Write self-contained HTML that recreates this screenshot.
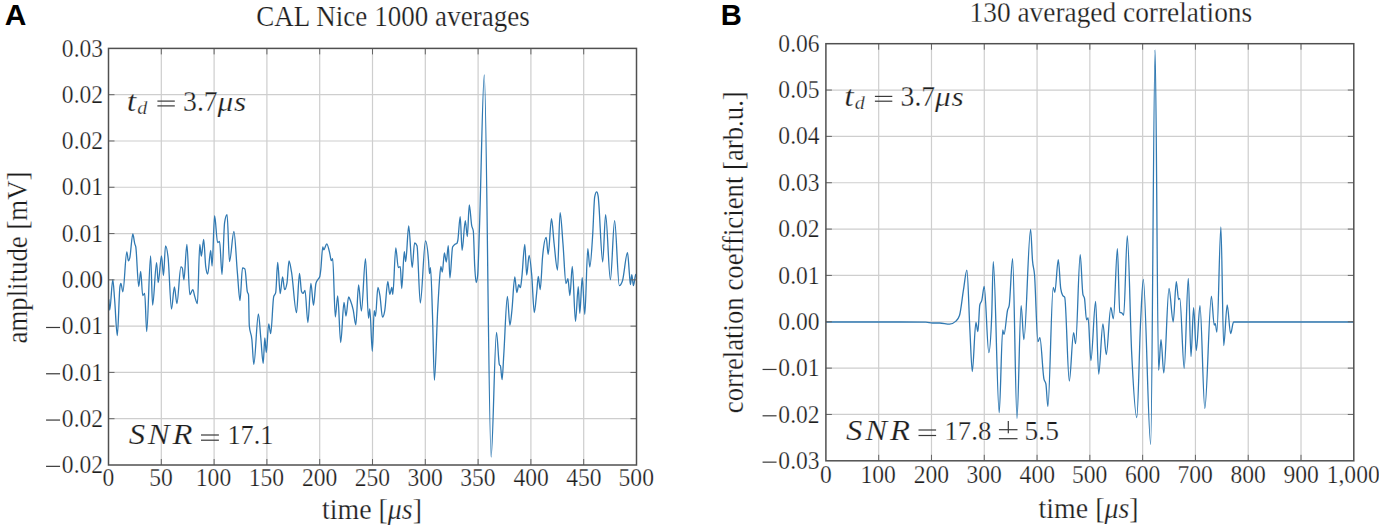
<!DOCTYPE html><html><head><meta charset="utf-8"><style>html,body{margin:0;padding:0;background:#fff;width:1379px;height:529px;overflow:hidden}svg{display:block}text{font-family:"Liberation Serif",serif;fill:#1e1e1e;stroke:#fff;stroke-width:0.25px}.s{font-family:"Liberation Sans",sans-serif;font-weight:bold;fill:#000;stroke:none}</style></head><body>
<svg width="1379" height="529" viewBox="0 0 1379 529">
<rect width="1379" height="529" fill="#fff"/>
<path d="M161.30 48.40V465.00M214.10 48.40V465.00M266.90 48.40V465.00M319.70 48.40V465.00M372.50 48.40V465.00M425.30 48.40V465.00M478.10 48.40V465.00M530.90 48.40V465.00M583.70 48.40V465.00M108.50 94.69H636.50M108.50 140.98H636.50M108.50 187.27H636.50M108.50 233.56H636.50M108.50 279.84H636.50M108.50 326.13H636.50M108.50 372.42H636.50M108.50 418.71H636.50" stroke="#cecece" stroke-width="1.2" fill="none"/>
<path d="M878.69 43.70V460.80M931.48 43.70V460.80M984.27 43.70V460.80M1037.06 43.70V460.80M1089.85 43.70V460.80M1142.64 43.70V460.80M1195.43 43.70V460.80M1248.22 43.70V460.80M1301.01 43.70V460.80M825.90 90.04H1353.80M825.90 136.39H1353.80M825.90 182.73H1353.80M825.90 229.08H1353.80M825.90 275.42H1353.80M825.90 321.77H1353.80M825.90 368.11H1353.80M825.90 414.46H1353.80" stroke="#cecece" stroke-width="1.2" fill="none"/>
<path d="M108.8 299.3C109.10 302.87 109.40 310.00 109.7 310.0C110.73 310.00 111.77 279.70 112.8 279.7C113.40 279.70 114.00 292.15 114.6 299.3C115.50 310.02 116.40 335.60 117.3 335.6C118.17 335.60 119.03 293.79 119.9 287.2C120.23 284.67 120.57 283.40 120.9 283.4C121.57 283.40 122.23 291.80 122.9 291.8C124.20 291.80 125.50 251.80 126.8 251.8C127.33 251.80 127.87 260.80 128.4 260.8C128.87 260.80 129.33 259.66 129.8 257.8C130.80 253.81 131.80 234.00 132.8 234.0C133.47 234.00 134.13 241.47 134.8 243.9C135.13 245.12 135.47 244.99 135.8 246.9C136.77 252.44 137.73 286.50 138.7 286.5C139.37 286.50 140.03 271.50 140.7 271.5C141.37 271.50 142.03 295.50 142.7 295.5C143.37 295.50 144.03 293.50 144.7 293.5C145.37 293.50 146.03 331.60 146.7 331.6C148.00 331.60 149.30 255.80 150.6 255.8C151.27 255.80 151.93 305.00 152.6 305.0C153.93 305.00 155.27 262.70 156.6 262.7C157.13 262.70 157.67 282.60 158.2 282.6C159.30 282.60 160.40 255.80 161.5 255.8C162.17 255.80 162.83 275.60 163.5 275.6C164.17 275.60 164.83 245.90 165.5 245.9C166.37 245.90 167.23 249.90 168.1 257.8C169.23 268.13 170.37 309.00 171.5 309.0C172.47 309.00 173.43 287.00 174.4 287.0C175.23 287.00 176.07 303.60 176.9 303.6C178.23 303.60 179.57 266.90 180.9 266.9C181.37 266.90 181.83 267.27 182.3 268.0C182.83 268.84 183.37 279.80 183.9 279.8C184.90 279.80 185.90 244.40 186.9 244.4C187.87 244.40 188.83 294.60 189.8 294.6C190.80 294.60 191.80 289.70 192.8 289.7C193.47 289.70 194.13 294.52 194.8 296.6C195.67 299.30 196.53 303.60 197.4 303.6C198.20 303.60 199.00 244.40 199.8 244.4C200.30 244.40 200.80 256.30 201.3 256.3C202.10 256.30 202.90 239.50 203.7 239.5C204.37 239.50 205.03 261.17 205.7 266.3C206.37 271.43 207.03 274.00 207.7 274.0C208.70 274.00 209.70 250.40 210.7 250.4C211.17 250.40 211.63 266.00 212.1 266.0C212.93 266.00 213.77 215.70 214.6 215.7C215.60 215.70 216.60 242.50 217.6 242.5C218.27 242.50 218.93 241.50 219.6 241.5C220.40 241.50 221.20 274.50 222.0 274.5C222.87 274.50 223.73 228.08 224.6 222.6C225.43 217.33 226.27 214.70 227.1 214.7C227.90 214.70 228.70 261.50 229.5 261.5C230.97 261.50 232.43 231.50 233.9 231.5C235.07 231.50 236.23 259.89 237.4 272.9C238.27 282.57 239.13 300.60 240.0 300.6C240.83 300.60 241.67 267.90 242.5 267.9C243.30 267.90 244.10 268.23 244.9 268.9C245.70 269.57 246.50 287.83 247.3 291.7C247.70 293.63 248.10 292.70 248.5 294.7C248.77 296.03 249.03 322.95 249.3 325.8C250.17 335.07 251.03 331.21 251.9 339.7C252.53 345.91 253.17 364.50 253.8 364.5C255.33 364.50 256.87 314.00 258.4 314.0C259.20 314.00 260.00 329.75 260.8 338.0C261.60 346.25 262.40 363.50 263.2 363.5C263.73 363.50 264.27 338.00 264.8 338.0C265.30 338.00 265.80 352.60 266.3 352.6C267.10 352.60 267.90 323.80 268.7 323.8C269.37 323.80 270.03 333.70 270.7 333.7C271.70 333.70 272.70 300.70 273.7 296.7C274.37 294.03 275.03 295.37 275.7 292.7C276.37 290.03 277.03 262.50 277.7 262.5C278.53 262.50 279.37 293.70 280.2 293.7C281.00 293.70 281.80 276.80 282.6 276.8C283.27 276.80 283.93 289.70 284.6 289.7C285.40 289.70 286.20 287.40 287.0 282.8C287.67 278.97 288.33 261.00 289.0 261.0C289.83 261.00 290.67 267.21 291.5 271.9C293.17 281.28 294.83 312.70 296.5 312.7C297.50 312.70 298.50 273.50 299.5 273.5C300.17 273.50 300.83 289.81 301.5 291.5C302.00 292.77 302.50 293.40 303.0 293.4C303.67 293.40 304.33 290.40 305.0 290.4C305.97 290.40 306.93 322.50 307.9 322.5C308.90 322.50 309.90 283.50 310.9 283.5C311.77 283.50 312.63 305.30 313.5 305.3C314.30 305.30 315.10 286.70 315.9 283.5C316.57 280.83 317.23 280.69 317.9 279.5C318.53 278.37 319.17 278.50 319.8 276.5C320.13 275.45 320.47 272.40 320.8 269.6C321.47 264.00 322.13 246.80 322.8 246.8C323.13 246.80 323.47 249.80 323.8 249.8C324.80 249.80 325.80 243.80 326.8 243.8C327.80 243.80 328.80 249.49 329.8 253.7C330.30 255.81 330.80 260.70 331.3 260.7C331.77 260.70 332.23 258.70 332.7 258.7C333.57 258.70 334.43 317.00 335.3 317.0C336.10 317.00 336.90 296.00 337.7 296.0C338.70 296.00 339.70 342.50 340.7 342.5C341.80 342.50 342.90 302.50 344.0 302.5C344.67 302.50 345.33 316.00 346.0 316.0C346.87 316.00 347.73 297.00 348.6 297.0C349.27 297.00 349.93 299.27 350.6 301.0C351.47 303.26 352.33 305.83 353.2 309.8C354.07 313.77 354.93 324.80 355.8 324.8C356.73 324.80 357.67 285.00 358.6 285.0C359.53 285.00 360.47 311.00 361.4 311.0C362.77 311.00 364.13 258.70 365.5 258.7C366.50 258.70 367.50 318.20 368.5 318.2C368.93 318.20 369.37 308.80 369.8 308.8C370.63 308.80 371.47 351.30 372.3 351.3C372.93 351.30 373.57 310.60 374.2 310.6C374.63 310.60 375.07 316.30 375.5 316.3C376.30 316.30 377.10 287.50 377.9 287.5C378.57 287.50 379.23 291.48 379.9 295.4C380.77 300.49 381.63 317.20 382.5 317.2C383.27 317.20 384.03 314.80 384.8 310.3C385.80 304.44 386.80 281.50 387.8 281.5C388.47 281.50 389.13 294.40 389.8 294.4C390.47 294.40 391.13 287.50 391.8 287.5C392.13 287.50 392.47 294.40 392.8 294.4C393.80 294.40 394.80 247.80 395.8 247.8C396.63 247.80 397.47 267.60 398.3 267.6C398.97 267.60 399.63 266.60 400.3 266.6C400.77 266.60 401.23 288.50 401.7 288.5C402.57 288.50 403.43 251.70 404.3 251.7C404.77 251.70 405.23 261.70 405.7 261.7C406.70 261.70 407.70 226.00 408.7 226.0C409.87 226.00 411.03 267.60 412.2 267.6C413.00 267.60 413.80 242.80 414.6 242.8C415.40 242.80 416.20 243.80 417.0 245.8C418.10 248.55 419.20 303.00 420.3 303.0C422.03 303.00 423.77 240.80 425.5 240.8C426.50 240.80 427.50 247.70 428.5 259.7C428.83 263.70 429.17 273.60 429.5 273.6C429.83 273.60 430.17 267.60 430.5 267.6C431.17 267.60 431.83 295.77 432.5 315.2C433.13 333.65 433.77 380.20 434.4 380.2C435.50 380.20 436.60 329.87 437.7 309.8C438.30 298.85 438.90 287.65 439.5 280.0C439.97 274.05 440.43 266.30 440.9 266.3C441.37 266.30 441.83 272.20 442.3 272.2C443.00 272.20 443.70 252.90 444.4 252.9C445.03 252.90 445.67 262.00 446.3 262.0C446.97 262.00 447.63 245.60 448.3 245.6C448.83 245.60 449.37 278.00 449.9 278.0C450.80 278.00 451.70 249.13 452.6 247.0C453.33 245.27 454.07 244.99 454.8 244.4C455.47 243.87 456.13 244.10 456.8 243.5C457.13 243.20 457.47 242.18 457.8 240.5C458.60 236.47 459.40 216.70 460.2 216.7C460.83 216.70 461.47 250.40 462.1 250.4C463.17 250.40 464.23 220.60 465.3 220.6C465.97 220.60 466.63 236.50 467.3 236.5C467.97 236.50 468.63 204.80 469.3 204.8C470.10 204.80 470.90 221.21 471.7 225.6C472.23 228.53 472.77 227.40 473.3 231.0C473.77 234.15 474.23 257.49 474.7 266.0C475.20 275.12 475.70 282.50 476.2 282.5C476.70 282.50 477.20 280.00 477.7 275.0C478.27 269.33 478.83 245.75 479.4 230.0C481.03 184.59 482.67 75.00 484.3 75.0C486.57 75.00 488.83 457.00 491.1 457.0C492.90 457.00 494.70 332.30 496.5 332.3C497.47 332.30 498.43 362.87 499.4 364.8C499.73 365.47 500.07 365.13 500.4 365.8C500.97 366.93 501.53 379.70 502.1 379.7C502.63 379.70 503.17 364.10 503.7 356.0C504.93 337.26 506.17 296.50 507.4 296.5C508.23 296.50 509.07 325.40 509.9 325.4C510.57 325.40 511.23 316.58 511.9 310.5C512.87 301.68 513.83 277.00 514.8 277.0C515.47 277.00 516.13 292.60 516.8 292.6C517.47 292.60 518.13 284.70 518.8 284.7C519.33 284.70 519.87 287.70 520.4 287.7C520.87 287.70 521.33 281.62 521.8 277.7C522.80 269.30 523.80 244.40 524.8 244.4C525.43 244.40 526.07 275.00 526.7 275.0C527.50 275.00 528.30 255.40 529.1 255.4C529.97 255.40 530.83 265.28 531.7 274.8C532.57 284.32 533.43 312.50 534.3 312.5C535.10 312.50 535.90 300.08 536.7 292.6C537.23 287.61 537.77 276.50 538.3 276.5C538.93 276.50 539.57 289.60 540.2 289.6C541.00 289.60 541.80 264.81 542.6 256.5C543.80 244.04 545.00 237.50 546.2 237.5C546.87 237.50 547.53 254.40 548.2 254.4C549.30 254.40 550.40 218.70 551.5 218.7C552.37 218.70 553.23 235.89 554.1 243.5C555.23 253.45 556.37 270.00 557.5 270.0C558.37 270.00 559.23 212.70 560.1 212.7C561.07 212.70 562.03 232.41 563.0 244.0C564.00 255.99 565.00 283.70 566.0 283.7C566.63 283.70 567.27 278.70 567.9 278.7C568.57 278.70 569.23 295.60 569.9 295.6C570.70 295.60 571.50 266.50 572.3 266.5C573.37 266.50 574.43 321.30 575.5 321.3C576.43 321.30 577.37 286.60 578.3 286.6C578.80 286.60 579.30 313.40 579.8 313.4C580.60 313.40 581.40 277.70 582.2 277.7C583.07 277.70 583.93 314.40 584.8 314.4C585.80 314.40 586.80 248.60 587.8 248.6C588.47 248.60 589.13 267.00 589.8 267.0C590.77 267.00 591.73 249.71 592.7 234.5C593.37 224.01 594.03 200.07 594.7 196.8C595.37 193.53 596.03 191.90 596.7 191.9C597.17 191.90 597.63 193.24 598.1 195.8C599.63 204.22 601.17 262.00 602.7 262.0C603.67 262.00 604.63 214.70 605.6 214.7C607.20 214.70 608.80 279.70 610.4 279.7C611.80 279.70 613.20 220.60 614.6 220.6C616.17 220.60 617.73 285.60 619.3 285.6C620.37 285.60 621.43 283.97 622.5 280.7C624.17 275.60 625.83 252.60 627.5 252.6C628.13 252.60 628.77 266.75 629.4 273.7C629.73 277.36 630.07 284.60 630.4 284.6C630.87 284.60 631.33 274.70 631.8 274.7C632.33 274.70 632.87 285.60 633.4 285.6C634.07 285.60 634.73 277.91 635.4 275.7C635.60 275.04 635.80 274.57 636.0 274.0" stroke="#3079b2" stroke-width="1.3" fill="none" stroke-linejoin="round"/>
<path d="M826.0 322.0C850.67 322.00 875.33 322.00 900.0 322.0C908.60 322.00 917.20 322.07 925.8 322.2C928.10 322.24 930.40 323.00 932.7 323.0C935.03 323.00 937.37 323.00 939.7 323.0C943.00 323.00 946.30 324.20 949.6 324.2C951.60 324.20 953.60 323.27 955.6 321.4C956.90 320.19 958.20 319.43 959.5 315.5C960.83 311.47 962.17 297.78 963.5 289.7C964.63 282.83 965.77 270.20 966.9 270.2C967.90 270.20 968.90 311.51 969.9 330.0C970.70 344.79 971.50 371.60 972.3 371.6C973.50 371.60 974.70 322.50 975.9 322.5C976.57 322.50 977.23 331.70 977.9 331.7C978.53 331.70 979.17 307.91 979.8 305.0C980.47 301.93 981.13 302.99 981.8 300.4C982.60 297.29 983.40 286.50 984.2 286.5C985.73 286.50 987.27 352.60 988.8 352.6C989.77 352.60 990.73 340.37 991.7 315.9C992.23 302.40 992.77 261.70 993.3 261.7C995.27 261.70 997.23 412.60 999.2 412.6C1000.37 412.60 1001.53 329.80 1002.7 329.8C1003.13 329.80 1003.57 334.70 1004.0 334.7C1005.20 334.70 1006.40 314.92 1007.6 310.0C1008.13 307.81 1008.67 308.47 1009.2 305.4C1010.33 298.88 1011.47 258.70 1012.6 258.7C1014.07 258.70 1015.53 418.50 1017.0 418.5C1018.37 418.50 1019.73 305.70 1021.1 305.7C1022.03 305.70 1022.97 339.70 1023.9 339.7C1026.13 339.70 1028.37 229.30 1030.6 229.3C1031.23 229.30 1031.87 253.11 1032.5 260.6C1033.17 268.49 1033.83 266.70 1034.5 274.5C1035.63 287.76 1036.77 341.70 1037.9 341.7C1038.57 341.70 1039.23 337.70 1039.9 337.7C1041.23 337.70 1042.57 372.13 1043.9 378.8C1044.57 382.13 1045.23 380.47 1045.9 383.8C1046.57 387.13 1047.23 406.60 1047.9 406.6C1049.67 406.60 1051.43 287.40 1053.2 287.4C1053.73 287.40 1054.27 292.40 1054.8 292.4C1055.97 292.40 1057.13 259.60 1058.3 259.6C1059.10 259.60 1059.90 282.80 1060.7 288.4C1061.37 293.07 1062.03 294.13 1062.7 295.4C1063.37 296.67 1064.03 296.03 1064.7 297.3C1066.23 300.21 1067.77 381.00 1069.3 381.0C1070.73 381.00 1072.17 332.70 1073.6 332.7C1074.27 332.70 1074.93 343.70 1075.6 343.7C1077.13 343.70 1078.67 254.70 1080.2 254.7C1081.10 254.70 1082.00 290.01 1082.9 294.4C1083.43 297.00 1083.97 295.70 1084.5 298.3C1085.17 301.55 1085.83 319.80 1086.5 319.8C1087.03 319.80 1087.57 317.90 1088.1 317.9C1089.03 317.90 1089.97 360.50 1090.9 360.5C1092.47 360.50 1094.03 301.50 1095.6 301.5C1096.63 301.50 1097.67 374.20 1098.7 374.2C1100.10 374.20 1101.50 323.80 1102.9 323.8C1104.03 323.80 1105.17 354.60 1106.3 354.6C1107.80 354.60 1109.30 307.50 1110.8 307.5C1111.67 307.50 1112.53 318.80 1113.4 318.8C1114.73 318.80 1116.07 248.70 1117.4 248.7C1118.20 248.70 1119.00 311.50 1119.8 312.2C1120.57 312.87 1121.33 312.53 1122.1 313.2C1122.63 313.66 1123.17 315.20 1123.7 315.2C1124.90 315.20 1126.10 235.80 1127.3 235.8C1128.77 235.80 1130.23 324.01 1131.7 353.6C1133.40 387.90 1135.10 417.50 1136.8 417.5C1138.07 417.50 1139.33 346.65 1140.6 321.8C1141.50 304.14 1142.40 279.50 1143.3 279.5C1145.77 279.50 1148.23 444.30 1150.7 444.3C1152.17 444.30 1153.63 49.90 1155.1 49.9C1156.27 49.90 1157.43 370.20 1158.6 370.2C1159.40 370.20 1160.20 339.60 1161.0 339.6C1161.93 339.60 1162.87 373.00 1163.8 373.0C1165.53 373.00 1167.27 288.50 1169.0 288.5C1170.40 288.50 1171.80 321.80 1173.2 321.8C1174.23 321.80 1175.27 281.60 1176.3 281.6C1177.07 281.60 1177.83 299.50 1178.6 299.5C1179.00 299.50 1179.40 298.30 1179.8 298.3C1181.27 298.30 1182.73 368.40 1184.2 368.4C1185.57 368.40 1186.93 278.50 1188.3 278.5C1189.20 278.50 1190.10 356.50 1191.0 356.5C1191.87 356.50 1192.73 307.60 1193.6 307.6C1194.50 307.60 1195.40 350.50 1196.3 350.5C1197.53 350.50 1198.77 305.60 1200.0 305.6C1201.60 305.60 1203.20 408.60 1204.8 408.6C1207.00 408.60 1209.20 296.20 1211.4 296.2C1212.33 296.20 1213.27 325.00 1214.2 325.0C1214.57 325.00 1214.93 323.70 1215.3 323.7C1215.83 323.70 1216.37 332.20 1216.9 332.2C1218.23 332.20 1219.57 226.90 1220.9 226.9C1221.83 226.90 1222.77 345.60 1223.7 345.6C1224.87 345.60 1226.03 304.90 1227.2 304.9C1228.33 304.90 1229.47 333.70 1230.6 333.7C1231.60 333.70 1232.60 322.00 1233.6 322.0C1273.67 322.00 1313.73 322.00 1353.8 322.0" stroke="#3079b2" stroke-width="1.3" fill="none" stroke-linejoin="round"/>
<path d="M161.30 48.40v6M161.30 465.00v-6M214.10 48.40v6M214.10 465.00v-6M266.90 48.40v6M266.90 465.00v-6M319.70 48.40v6M319.70 465.00v-6M372.50 48.40v6M372.50 465.00v-6M425.30 48.40v6M425.30 465.00v-6M478.10 48.40v6M478.10 465.00v-6M530.90 48.40v6M530.90 465.00v-6M583.70 48.40v6M583.70 465.00v-6M108.50 94.69h6M636.50 94.69h-6M108.50 140.98h6M636.50 140.98h-6M108.50 187.27h6M636.50 187.27h-6M108.50 233.56h6M636.50 233.56h-6M108.50 279.84h6M636.50 279.84h-6M108.50 326.13h6M636.50 326.13h-6M108.50 372.42h6M636.50 372.42h-6M108.50 418.71h6M636.50 418.71h-6" stroke="#666666" stroke-width="1" fill="none"/>
<rect x="108.50" y="48.40" width="528.00" height="416.60" fill="none" stroke="#505050" stroke-width="1.5"/>
<path d="M878.69 43.70v6M878.69 460.80v-6M931.48 43.70v6M931.48 460.80v-6M984.27 43.70v6M984.27 460.80v-6M1037.06 43.70v6M1037.06 460.80v-6M1089.85 43.70v6M1089.85 460.80v-6M1142.64 43.70v6M1142.64 460.80v-6M1195.43 43.70v6M1195.43 460.80v-6M1248.22 43.70v6M1248.22 460.80v-6M1301.01 43.70v6M1301.01 460.80v-6M825.90 90.04h6M1353.80 90.04h-6M825.90 136.39h6M1353.80 136.39h-6M825.90 182.73h6M1353.80 182.73h-6M825.90 229.08h6M1353.80 229.08h-6M825.90 275.42h6M1353.80 275.42h-6M825.90 321.77h6M1353.80 321.77h-6M825.90 368.11h6M1353.80 368.11h-6M825.90 414.46h6M1353.80 414.46h-6" stroke="#666666" stroke-width="1" fill="none"/>
<rect x="825.90" y="43.70" width="527.90" height="417.10" fill="none" stroke="#505050" stroke-width="1.5"/>
<text x="4.65" y="24.60" font-size="30.00" textLength="21.64" lengthAdjust="spacingAndGlyphs" class="s" fill="#000">A</text>
<text x="720.75" y="24.60" font-size="30.00" textLength="21.08" lengthAdjust="spacingAndGlyphs" class="s" fill="#000">B</text>
<text transform="translate(256.29 26.20) scale(0.9000 1)" font-size="30.00" textLength="303.98" lengthAdjust="spacing">CAL Nice 1000 averages</text>
<text transform="translate(969.60 21.50) scale(0.9275 1)" font-size="29.50" textLength="304.69" lengthAdjust="spacing">130 averaged correlations</text>
<text x="61.86" y="56.50" font-size="24.70" textLength="41.24" lengthAdjust="spacingAndGlyphs">0.03</text>
<text x="61.86" y="102.79" font-size="24.70" textLength="41.24" lengthAdjust="spacingAndGlyphs">0.02</text>
<text x="61.86" y="149.08" font-size="24.70" textLength="41.24" lengthAdjust="spacingAndGlyphs">0.02</text>
<text x="61.86" y="195.37" font-size="24.70" textLength="41.24" lengthAdjust="spacingAndGlyphs">0.01</text>
<text x="61.86" y="241.66" font-size="24.70" textLength="41.24" lengthAdjust="spacingAndGlyphs">0.01</text>
<text x="61.86" y="287.94" font-size="24.70" textLength="41.24" lengthAdjust="spacingAndGlyphs">0.00</text>
<text x="61.86" y="334.23" font-size="24.70" textLength="41.24" lengthAdjust="spacingAndGlyphs">0.01</text>
<rect x="46.06" y="326.88" width="14.00" height="1.20" fill="#3a3a3a"/>
<text x="61.86" y="380.52" font-size="24.70" textLength="41.24" lengthAdjust="spacingAndGlyphs">0.01</text>
<rect x="46.06" y="373.17" width="14.00" height="1.20" fill="#3a3a3a"/>
<text x="61.86" y="426.81" font-size="24.70" textLength="41.24" lengthAdjust="spacingAndGlyphs">0.02</text>
<rect x="46.06" y="419.46" width="14.00" height="1.20" fill="#3a3a3a"/>
<text x="61.86" y="473.10" font-size="24.70" textLength="41.24" lengthAdjust="spacingAndGlyphs">0.02</text>
<rect x="46.06" y="465.75" width="14.00" height="1.20" fill="#3a3a3a"/>
<text x="778.36" y="51.80" font-size="24.70" textLength="41.24" lengthAdjust="spacingAndGlyphs">0.06</text>
<text x="778.36" y="98.14" font-size="24.70" textLength="41.24" lengthAdjust="spacingAndGlyphs">0.05</text>
<text x="778.36" y="144.49" font-size="24.70" textLength="41.24" lengthAdjust="spacingAndGlyphs">0.04</text>
<text x="778.36" y="190.83" font-size="24.70" textLength="41.24" lengthAdjust="spacingAndGlyphs">0.03</text>
<text x="778.36" y="237.18" font-size="24.70" textLength="41.24" lengthAdjust="spacingAndGlyphs">0.02</text>
<text x="778.36" y="283.52" font-size="24.70" textLength="41.24" lengthAdjust="spacingAndGlyphs">0.01</text>
<text x="778.36" y="329.87" font-size="24.70" textLength="41.24" lengthAdjust="spacingAndGlyphs">0.00</text>
<text x="778.36" y="376.21" font-size="24.70" textLength="41.24" lengthAdjust="spacingAndGlyphs">0.01</text>
<rect x="762.56" y="368.86" width="14.00" height="1.20" fill="#3a3a3a"/>
<text x="778.36" y="422.56" font-size="24.70" textLength="41.24" lengthAdjust="spacingAndGlyphs">0.02</text>
<rect x="762.56" y="415.21" width="14.00" height="1.20" fill="#3a3a3a"/>
<text x="778.36" y="468.90" font-size="24.70" textLength="41.24" lengthAdjust="spacingAndGlyphs">0.03</text>
<rect x="762.56" y="461.55" width="14.00" height="1.20" fill="#3a3a3a"/>
<text x="102.61" y="486.30" font-size="24.70" textLength="11.78" lengthAdjust="spacingAndGlyphs">0</text>
<text x="149.28" y="486.30" font-size="24.70" textLength="23.56" lengthAdjust="spacingAndGlyphs">50</text>
<text x="195.84" y="486.30" font-size="24.70" textLength="35.35" lengthAdjust="spacingAndGlyphs">100</text>
<text x="248.64" y="486.30" font-size="24.70" textLength="35.35" lengthAdjust="spacingAndGlyphs">150</text>
<text x="301.96" y="486.30" font-size="24.70" textLength="35.35" lengthAdjust="spacingAndGlyphs">200</text>
<text x="354.76" y="486.30" font-size="24.70" textLength="35.35" lengthAdjust="spacingAndGlyphs">250</text>
<text x="407.51" y="486.30" font-size="24.70" textLength="35.35" lengthAdjust="spacingAndGlyphs">300</text>
<text x="460.31" y="486.30" font-size="24.70" textLength="35.35" lengthAdjust="spacingAndGlyphs">350</text>
<text x="513.45" y="486.30" font-size="24.70" textLength="35.35" lengthAdjust="spacingAndGlyphs">400</text>
<text x="566.25" y="486.30" font-size="24.70" textLength="35.35" lengthAdjust="spacingAndGlyphs">450</text>
<text x="618.59" y="486.30" font-size="24.70" textLength="35.35" lengthAdjust="spacingAndGlyphs">500</text>
<text x="820.01" y="482.80" font-size="24.70" textLength="11.78" lengthAdjust="spacingAndGlyphs">0</text>
<text x="860.43" y="482.80" font-size="24.70" textLength="35.35" lengthAdjust="spacingAndGlyphs">100</text>
<text x="913.74" y="482.80" font-size="24.70" textLength="35.35" lengthAdjust="spacingAndGlyphs">200</text>
<text x="966.48" y="482.80" font-size="24.70" textLength="35.35" lengthAdjust="spacingAndGlyphs">300</text>
<text x="1019.61" y="482.80" font-size="24.70" textLength="35.35" lengthAdjust="spacingAndGlyphs">400</text>
<text x="1071.94" y="482.80" font-size="24.70" textLength="35.35" lengthAdjust="spacingAndGlyphs">500</text>
<text x="1124.91" y="482.80" font-size="24.70" textLength="35.35" lengthAdjust="spacingAndGlyphs">600</text>
<text x="1177.43" y="482.80" font-size="24.70" textLength="35.35" lengthAdjust="spacingAndGlyphs">700</text>
<text x="1230.55" y="482.80" font-size="24.70" textLength="35.35" lengthAdjust="spacingAndGlyphs">800</text>
<text x="1283.41" y="482.80" font-size="24.70" textLength="35.35" lengthAdjust="spacingAndGlyphs">900</text>
<text x="1326.70" y="482.80" font-size="24.70" textLength="53.02" lengthAdjust="spacingAndGlyphs">1,000</text>
<text x="322.00" y="518.60" font-size="29.50" text-anchor="start" textLength="100.00" lengthAdjust="spacingAndGlyphs" >time [<tspan font-style="italic">μs</tspan>]</text>
<text x="1038.60" y="518.20" font-size="29.50" text-anchor="start" textLength="100.00" lengthAdjust="spacingAndGlyphs" >time [<tspan font-style="italic">μs</tspan>]</text>
<text x="0.00" y="0.00" font-size="29.50" text-anchor="middle" textLength="172.00" lengthAdjust="spacingAndGlyphs" transform="translate(27.3 257.5) rotate(-90)">amplitude [mV]</text>
<text x="0.00" y="0.00" font-size="29.50" text-anchor="middle" textLength="322.00" lengthAdjust="spacingAndGlyphs" transform="translate(743 252.2) rotate(-90)">correlation coefficient [arb.u.]</text>
<text x="126.81" y="110.50" font-size="30.00" textLength="9.41" lengthAdjust="spacingAndGlyphs" font-style="italic">t</text>
<text x="137.29" y="114.10" font-size="19.50" textLength="10.06" lengthAdjust="spacingAndGlyphs" font-style="italic">d</text>
<rect x="157.40" y="100.50" width="17.40" height="1.20" fill="#3a3a3a"/>
<rect x="157.40" y="105.30" width="17.40" height="1.20" fill="#3a3a3a"/>
<text transform="translate(183.07 110.70) scale(0.9618 1)" font-size="28.80" textLength="36.00" lengthAdjust="spacing">3.7</text>
<text transform="translate(217.53 110.60) scale(1.1200 1)" font-size="28.00" textLength="25.55" lengthAdjust="spacing" font-style="italic">μs</text>
<text x="844.31" y="105.80" font-size="30.00" textLength="9.41" lengthAdjust="spacingAndGlyphs" font-style="italic">t</text>
<text x="854.79" y="109.40" font-size="19.50" textLength="10.06" lengthAdjust="spacingAndGlyphs" font-style="italic">d</text>
<rect x="874.90" y="95.80" width="17.40" height="1.20" fill="#3a3a3a"/>
<rect x="874.90" y="100.60" width="17.40" height="1.20" fill="#3a3a3a"/>
<text transform="translate(900.57 106.00) scale(0.9618 1)" font-size="28.80" textLength="36.00" lengthAdjust="spacing">3.7</text>
<text transform="translate(935.03 105.90) scale(1.1200 1)" font-size="28.00" textLength="25.55" lengthAdjust="spacing" font-style="italic">μs</text>
<text transform="translate(128.82 444.30) scale(1.1200 1)" font-size="29.30" textLength="56.81" lengthAdjust="spacing" font-style="italic">SNR</text>
<rect x="201.00" y="434.40" width="17.90" height="1.20" fill="#3a3a3a"/>
<rect x="201.00" y="439.60" width="17.90" height="1.20" fill="#3a3a3a"/>
<text transform="translate(227.39 444.30) scale(0.9286 1)" font-size="28.30" textLength="49.53" lengthAdjust="spacing">17.1</text>
<text transform="translate(846.02 439.50) scale(1.1200 1)" font-size="29.30" textLength="57.08" lengthAdjust="spacing" font-style="italic">SNR</text>
<rect x="918.50" y="429.40" width="17.60" height="1.20" fill="#3a3a3a"/>
<rect x="918.50" y="434.90" width="17.60" height="1.20" fill="#3a3a3a"/>
<text transform="translate(944.45 439.50) scale(0.9465 1)" font-size="28.30" textLength="49.52" lengthAdjust="spacing">17.8</text>
<rect x="1007.70" y="421.00" width="1.20" height="12.30" fill="#3a3a3a"/>
<rect x="998.90" y="429.10" width="18.60" height="1.20" fill="#3a3a3a"/>
<rect x="998.90" y="438.10" width="18.60" height="1.20" fill="#3a3a3a"/>
<text transform="translate(1024.50 439.50) scale(0.9747 1)" font-size="28.30" textLength="35.38" lengthAdjust="spacing">5.5</text>
</svg></body></html>
